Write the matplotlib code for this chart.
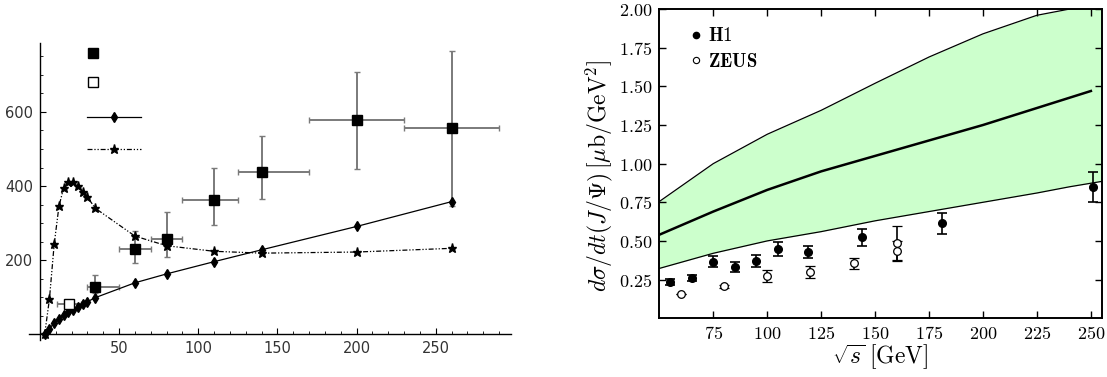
import numpy as np
import matplotlib
matplotlib.use('Agg')
import matplotlib.pyplot as plt
from matplotlib.ticker import MultipleLocator, FuncFormatter

plt.rcParams['mathtext.fontset'] = 'cm'

# ---- left panel data ----
sq_x = [35, 60, 80, 110, 140, 200, 260]
sq_y = [127, 230, 258, 362, 439, 577, 558]
sq_ylo = [112, 192, 208, 295, 366, 445, 345]
sq_yhi = [160, 280, 329, 450, 534, 708, 765]
sq_xlo = [30, 50, 70, 90, 125, 170, 230]
sq_xhi = [50, 70, 90, 125, 170, 230, 290]

open_x = [18.5]
open_y = [81]
open_ylo = [72]
open_yhi = [92]
open_xlo = [11]
open_xhi = [26]

model_x = [3, 6, 9, 12, 15, 18, 21, 24, 27, 30, 35, 60, 80, 110, 140, 200, 260]
diamond_y = [0, 15, 31, 42, 52, 59, 66, 73, 81, 88, 99, 139, 163, 196, 228, 291, 358]
star_y = [0, 95, 243, 345, 396, 410, 410, 399, 384, 370, 340, 265, 239, 224, 219, 222, 232]

# ---- right panel data ----
band_x = [50, 75, 100, 125, 150, 175, 200, 225, 240, 255]
band_hi = [0.755, 1.0, 1.19, 1.345, 1.52, 1.69, 1.84, 1.96, 2.0, 2.01]
band_lo = [0.322, 0.42, 0.50, 0.56, 0.63, 0.69, 0.75, 0.81, 0.85, 0.885]
center_x = [50, 75, 100, 125, 150, 175, 200, 225, 250]
center_y = [0.54, 0.69, 0.83, 0.95, 1.05, 1.15, 1.25, 1.36, 1.47]

h1_x = [55, 65, 75, 85, 95, 105, 119, 144, 181, 251]
h1_y = [0.236, 0.258, 0.365, 0.333, 0.371, 0.447, 0.428, 0.523, 0.613, 0.85]
h1_err = [0.02, 0.02, 0.037, 0.033, 0.037, 0.044, 0.04, 0.054, 0.07, 0.095]

zeus_x = [60, 80, 100, 120, 140, 160, 160]
zeus_y = [0.154, 0.206, 0.275, 0.297, 0.355, 0.488, 0.434]
zeus_err = [0.0, 0.01, 0.039, 0.039, 0.037, 0.11, 0.065]

fig = plt.figure(figsize=(11.07, 3.77), dpi=100)

# ================= left panel =================
ax1 = fig.add_axes([0.0262, 0.0981, 0.4351, 0.7878])
ax1.set_xlim(-6.9, 297.3)
ax1.set_ylim(-15.4, 786)
for s in ['top', 'right']:
    ax1.spines[s].set_visible(False)
ax1.spines['left'].set_position(('data', 0))
ax1.spines['bottom'].set_position(('data', 0))
for s in ['left', 'bottom']:
    ax1.spines[s].set_linewidth(1.0)

ax1.xaxis.set_minor_locator(MultipleLocator(10))
ax1.yaxis.set_minor_locator(MultipleLocator(50))
ax1.set_xticks([50, 100, 150, 200, 250])
ax1.set_yticks([200, 400, 600])
ax1.tick_params(which='major', direction='in', length=4, width=0.8,
                labelsize=10.5, labelcolor='#333333', pad=5)
ax1.tick_params(which='minor', direction='in', length=2.5, width=0.6)

xerr_sq = [np.subtract(sq_x, sq_xlo), np.subtract(sq_xhi, sq_x)]
yerr_sq = [np.subtract(sq_y, sq_ylo), np.subtract(sq_yhi, sq_y)]
ax1.errorbar(sq_x, sq_y, xerr=xerr_sq, yerr=yerr_sq, fmt='none',
             ecolor='#7a7a7a', elinewidth=1.4, capsize=2.5, capthick=1.0, zorder=2)
xerr_op = [np.subtract(open_x, open_xlo), np.subtract(open_xhi, open_x)]
yerr_op = [np.subtract(open_y, open_ylo), np.subtract(open_yhi, open_y)]
ax1.errorbar(open_x, open_y, xerr=xerr_op, yerr=yerr_op, fmt='none',
             ecolor='#7a7a7a', elinewidth=1.4, capsize=2.5, capthick=1.0, zorder=2)

ax1.plot(model_x, diamond_y, color='black', lw=0.9, marker='d', ms=5, zorder=3)
ax1.plot(model_x, star_y, color='black', lw=0.9, dashes=(4, 1.5, 1, 1.5, 1, 1.5),
         marker='*', ms=6.5, zorder=3)
ax1.plot(sq_x, sq_y, ls='none', marker='s', ms=7, color='black', zorder=4)
ax1.plot(open_x, open_y, ls='none', marker='s', ms=7, mfc='white', mec='black',
         mew=1.0, zorder=4)

# legend keys without labels
ax1.plot([0.1335], [0.9653], transform=ax1.transAxes, marker='s', ms=7, color='black')
ax1.plot([0.1335], [0.8677], transform=ax1.transAxes, marker='s', ms=7, mfc='white',
         mec='black', mew=1.0)
ax1.plot([0.121, 0.232], [0.7498, 0.7498], transform=ax1.transAxes, color='black', lw=0.9)
ax1.plot([0.1765], [0.7498], transform=ax1.transAxes, marker='d', ms=5, color='black')
ax1.plot([0.121, 0.232], [0.644, 0.644], transform=ax1.transAxes, color='black', lw=0.9,
         dashes=(4, 1.5, 1, 1.5, 1, 1.5))
ax1.plot([0.1765], [0.644], transform=ax1.transAxes, marker='*', ms=6.5, color='black')

# ================= right panel =================
ax2 = fig.add_axes([0.5956, 0.156, 0.3996, 0.8199])
ax2.set_xlim(50, 255)
ax2.set_ylim(0, 2.0)
ax2.fill_between(band_x, band_lo, band_hi, color='#ccffcc', lw=0, zorder=1)
ax2.plot(band_x, band_hi, color='black', lw=0.9, zorder=2)
ax2.plot(band_x, band_lo, color='black', lw=0.9, zorder=2)
ax2.plot(center_x, center_y, color='black', lw=1.8, zorder=2)

ax2.errorbar(h1_x, h1_y, yerr=h1_err, fmt='o', color='black', ms=5.5,
             elinewidth=1.2, capsize=3.5, capthick=1.2, zorder=4)
ax2.errorbar(zeus_x, zeus_y, yerr=zeus_err, fmt='o', color='black', mfc='white',
             mec='black', mew=0.9, ms=5.5, elinewidth=1.2, capsize=3.5, capthick=1.2,
             zorder=3)

ax2.set_xticks([75, 100, 125, 150, 175, 200, 225, 250])
ax2.set_yticks([0.25, 0.5, 0.75, 1.0, 1.25, 1.5, 1.75, 2.0])
ax2.xaxis.set_major_formatter(FuncFormatter(lambda v, p: r'$\mathrm{%d}$' % v))
ax2.yaxis.set_major_formatter(FuncFormatter(lambda v, p: r'$\mathrm{%.2f}$' % v))
ax2.tick_params(direction='in', top=True, right=True, length=5, width=1.0,
                labelsize=13, pad=5)
for s in ax2.spines.values():
    s.set_linewidth(1.4)

ax2.set_xlabel(r'$\sqrt{s}\;[\mathrm{GeV}]$', fontsize=17, labelpad=0)
ax2.set_ylabel(r'$d\sigma/dt(J/\Psi)\,[\mu\mathrm{b}/\mathrm{GeV}^2]$', fontsize=17)
ax2.yaxis.set_label_coords(-0.10, 0.46)

h1_key = plt.Line2D([], [], ls='none', marker='o', color='black', ms=4.5)
zeus_key = plt.Line2D([], [], ls='none', marker='o', mfc='white', mec='black',
                      mew=0.8, ms=4.5)
ax2.legend([h1_key, zeus_key], [r'$\mathbf{H1}$', r'$\mathbf{ZEUS}$'],
           loc='upper left', bbox_to_anchor=(0.070, 0.945), frameon=False,
           fontsize=13.5, handlelength=0.6, handletextpad=0.34, labelspacing=0.35,
           borderaxespad=0, borderpad=0)

fig.savefig('out.png', dpi=100)
